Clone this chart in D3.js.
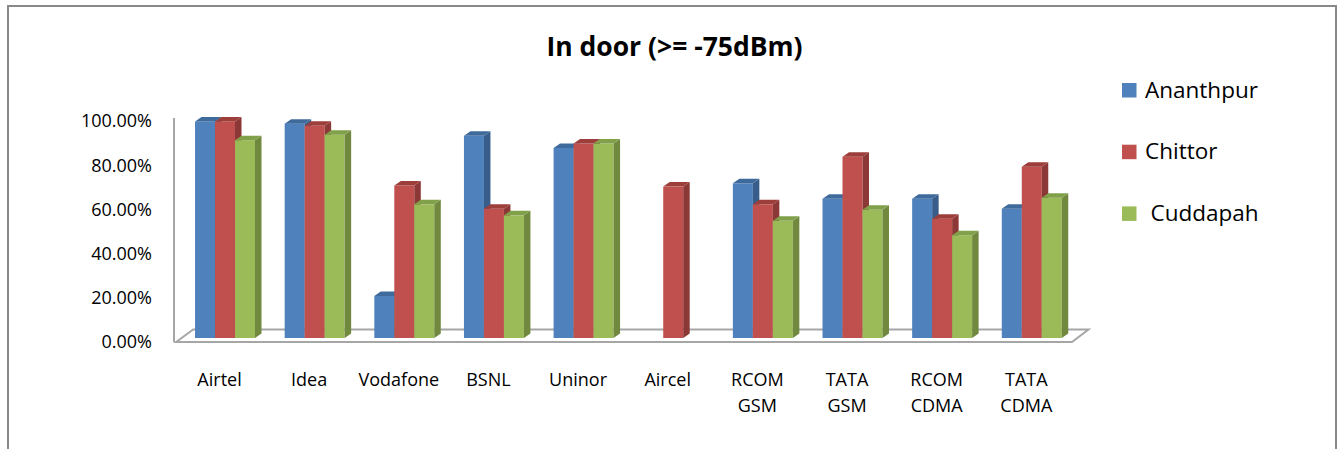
<!DOCTYPE html>
<html>
<head>
<meta charset="utf-8">
<script src="https://cdn.jsdelivr.net/npm/d3@7"></script>
<style>
  body { margin: 0; background: #fff; }
  text { font-family: "Open Sans", "Noto Sans", sans-serif; fill: #000; }
</style>
</head>
<body>
<svg id="chart" width="1340" height="449"></svg>
<script>
// data
var categories = [["Airtel"], ["Idea"], ["Vodafone"], ["BSNL"], ["Uninor"], ["Aircel"],
                  ["RCOM", "GSM"], ["TATA", "GSM"], ["RCOM", "CDMA"], ["TATA", "CDMA"]];
var seriesNames = ["Ananthpur", "Chittor", "Cuddapah"];
var ananthpur = [0.98, 0.97, 0.19, 0.915, 0.86, 0, 0.70, 0.63, 0.63, 0.585];
var chittor   = [0.98, 0.96, 0.69, 0.585, 0.88, 0.685, 0.605, 0.82, 0.54, 0.775];
var cuddapah  = [0.895, 0.92, 0.605, 0.555, 0.88, 0, 0.53, 0.58, 0.465, 0.635];
var yTicks = [0, 0.2, 0.4, 0.6, 0.8, 1.0];

var frontCol = ["#4F81BD", "#C0504D", "#9BBB59"];
var sideCol  = ["#385D8A", "#8C3836", "#71893F"];
var topCol   = ["#3F6A9C", "#9E3E3B", "#80A04A"];

var values = [ananthpur, chittor, cuddapah];
var catKeys = categories.map(function(c) { return c.join(" "); });

var svg = d3.select("#chart");

// outer frame
svg.append("rect")
  .attr("x", 8).attr("y", 6).attr("width", 1328).attr("height", 470)
  .attr("fill", "#fff").attr("stroke", "#898989").attr("stroke-width", 2);

var x0 = d3.scaleBand().domain(catKeys).range([180.2, 1076.6])
  .paddingInner(0.331).paddingOuter(0.1655);
var x1 = d3.scaleBand().domain(seriesNames).range([0, x0.bandwidth()]);
var y = d3.scaleLinear().domain([0, 1]).range([342, 121]);

var dx = 6.5, dy = 4.5, lift = 4;

// floor + wall edge
var fl = x0.range()[0] - 4, fr = x0.range()[1] - 4.6;
svg.append("polygon")
  .attr("points", [[fl, y(0)], [fr, y(0)], [fr + 16.5, y(0) - 12.5], [fl + 17, y(0) - 12.5]].join(" "))
  .attr("fill", "none").attr("stroke", "#a6a6a6").attr("stroke-width", 2);
svg.append("line")
  .attr("x1", 174).attr("x2", 174).attr("y1", y(1) - 3).attr("y2", y(0))
  .attr("stroke", "#a6a6a6").attr("stroke-width", 2);

// y tick labels
svg.selectAll(".ytick").data(yTicks).enter().append("text")
  .attr("class", "ytick")
  .attr("x", 152).attr("y", function(d) { return y(d); })
  .attr("dy", "0.35em").attr("text-anchor", "end")
  .style("font-size", "18px")
  .text(d3.format(".2%"));

// bars
var groups = svg.selectAll(".grp").data(catKeys).enter().append("g")
  .attr("class", "grp")
  .attr("transform", function(d) { return "translate(" + x0(d) + ",0)"; });

groups.each(function(c, ci) {
  var g = d3.select(this);
  seriesNames.forEach(function(s, si) {
    var v = values[si][ci];
    if (!v) return;
    var x = x1(s), w = x1.bandwidth();
    var top = y(v) - lift, bot = y(0) - lift;
    g.append("rect").attr("x", x).attr("y", top).attr("width", w).attr("height", bot - top)
      .attr("fill", frontCol[si]);
    g.append("polygon")
      .attr("points", [[x + w, top], [x + w + dx, top - dy], [x + w + dx, bot - dy], [x + w, bot]].join(" "))
      .attr("fill", sideCol[si]);
    g.append("polygon")
      .attr("points", [[x, top], [x + dx, top - dy], [x + w + dx, top - dy], [x + w, top]].join(" "))
      .attr("fill", topCol[si]);
  });
});

// x labels
var xl = svg.selectAll(".xlab").data(categories).enter().append("text")
  .attr("class", "xlab")
  .attr("text-anchor", "middle")
  .style("font-size", "18px")
  .attr("transform", function(d, i) {
    return "translate(" + (x0(catKeys[i]) + x0.bandwidth() / 2 - 5.5) + ",386)";
  });
xl.selectAll("tspan").data(function(d) { return d; }).enter().append("tspan")
  .attr("x", 0).attr("y", function(d, i) { return i * 26; })
  .text(function(d) { return d; });

// title
svg.append("text")
  .attr("x", 674.5).attr("y", 56).attr("text-anchor", "middle")
  .style("font-size", "26.5px").style("font-weight", "bold")
  .text("In door (>= -75dBm)");

// legend
var leg = svg.selectAll(".leg").data(seriesNames).enter().append("g")
  .attr("class", "leg")
  .attr("transform", function(d, i) { return "translate(1122," + (83 + i * 61.7) + ")"; });
leg.append("rect").attr("width", 14.5).attr("height", 14.5)
  .attr("fill", function(d, i) { return frontCol[i]; });
leg.append("text")
  .attr("x", function(d, i) { return i === 2 ? 28.5 : 23; })
  .attr("y", 14.5)
  .style("font-size", "22.5px")
  .text(function(d) { return d; });
</script>
</body>
</html>
